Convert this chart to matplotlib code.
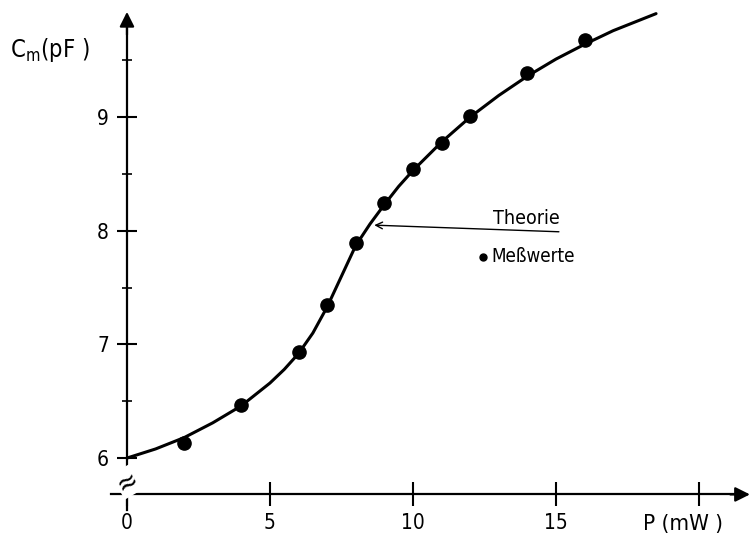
import matplotlib
matplotlib.use("Agg")
import matplotlib.pyplot as plt

plt.rcParams['font.family'] = ['DejaVu Sans']
plt.rcParams['font.stretch'] = 'condensed'

# measured points (P in mW, C_m in pF)
p_meas = [2, 4, 6, 7, 8, 9, 10, 11, 12, 14, 16]
c_meas = [6.13, 6.47, 6.93, 7.35, 7.89, 8.24, 8.54, 8.77, 9.01, 9.39, 9.68]

# theory curve
p_theo = [0, 1, 2, 3, 4, 5, 5.5, 6, 6.5, 7, 7.5, 8, 8.5, 9, 9.5, 10, 11, 12, 13, 14, 15, 16, 17, 18, 18.5]
c_theo = [6.00, 6.08, 6.18, 6.31, 6.46, 6.66, 6.78, 6.92, 7.10, 7.33, 7.60, 7.87, 8.06, 8.23, 8.39,
          8.53, 8.78, 9.00, 9.19, 9.36, 9.51, 9.64, 9.76, 9.86, 9.91]

x_ticks = [0, 5, 10, 15, 20]
x_ticklabels = ['0', '5', '10', '15', '']
y_ticks = [6, 7, 8, 9]
y_minor = [6.5, 7.5, 8.5, 9.5]

fs = 15
fig = plt.figure(figsize=(7.53, 5.35), dpi=100)
ax = fig.add_axes([0, 0, 1, 1])
ax.set_xlim(-4.44, 21.89)
ax.set_ylim(5.323, 10.03)

# axes through origin-ish
for s in ['top', 'right']:
    ax.spines[s].set_visible(False)
ax.spines['left'].set_position(('data', 0))
ax.spines['bottom'].set_position(('data', 5.68))
ax.spines['left'].set_bounds(5.54, 9.8)
ax.spines['bottom'].set_bounds(-0.56, 21.3)
for s in ['left', 'bottom']:
    ax.spines[s].set_linewidth(1.6)
ax.patch.set_alpha(0)

ax.annotate('', xy=(0, 9.95), xytext=(0, 9.7),
            arrowprops=dict(arrowstyle='-|>', mutation_scale=22, lw=1.6, color='k'))
ax.annotate('', xy=(21.88, 5.68), xytext=(21.0, 5.68),
            arrowprops=dict(arrowstyle='-|>', mutation_scale=22, lw=1.6, color='k'))

ax.set_xticks(x_ticks)
ax.set_xticklabels(x_ticklabels)
ax.set_yticks(y_ticks)
ax.set_yticks(y_minor, minor=True)
ax.tick_params(axis='x', direction='inout', length=17, width=1.5, pad=5, labelsize=fs)
ax.tick_params(axis='y', which='major', direction='inout', length=14, width=1.5, pad=6, labelsize=fs)
ax.tick_params(axis='y', which='minor', direction='inout', length=7, width=1.2)

# axis break mark
ax.text(0, 5.79, '≈', fontsize=20, ha='center', va='center', rotation=30,
        bbox=dict(facecolor='white', edgecolor='none', pad=0.2))

# theory curve and measured points
ax.plot(p_theo, c_theo, color='black', lw=2.2, solid_capstyle='round')
ax.plot(p_meas, c_meas, 'o', color='black', markersize=9.5)

# labels
ax.text(-4.09, 9.59, r'C$_\mathrm{m}$(pF )', fontsize=17, ha='left', va='center')
ax.text(19.45, 5.51, 'P (mW )', fontsize=16, ha='center', va='top')

# legend style annotations
ax.annotate('', xy=(8.55, 8.05), xytext=(15.2, 7.99),
            arrowprops=dict(arrowstyle='->', lw=1.0, color='black', mutation_scale=12))
ax.text(12.8, 8.11, 'Theorie', fontsize=14, ha='left', va='center')
ax.plot([12.45], [7.77], 'o', color='black', markersize=5)
ax.text(12.73, 7.77, 'Meßwerte', fontsize=13.5, ha='left', va='center')

plt.savefig('out.png', dpi=100)
